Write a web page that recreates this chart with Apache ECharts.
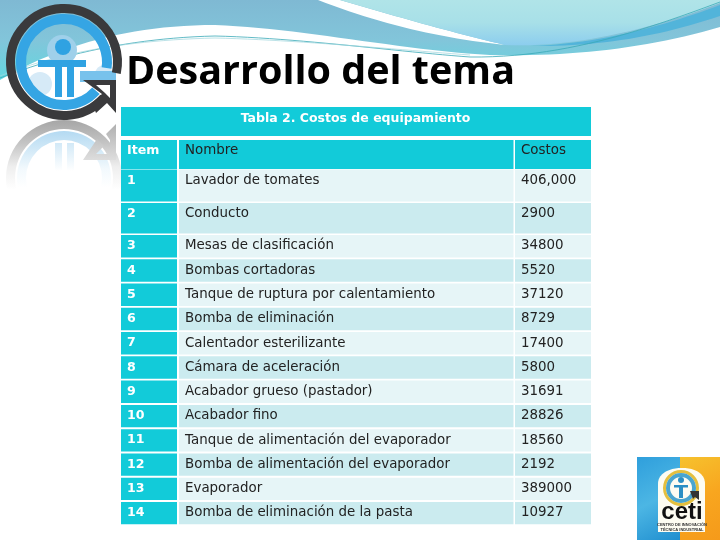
<!DOCTYPE html>
<html>
<head>
<meta charset="utf-8">
<style>
html, body { margin: 0; padding: 0; background: #fff; }
#chart { width: 720px; height: 540px; }
</style>
<script src="https://cdn.jsdelivr.net/npm/echarts@6/dist/echarts.min.js"></script>
</head>
<body>
<div id="chart"></div>
<script>
// Contenu du tableau
const titre = 'Desarrollo del tema';
const titreTableau = 'Tabla 2. Costos de equipamiento';
const enTetes = ['Item', 'Nombre', 'Costos'];
const items = ['1', '2', '3', '4', '5', '6', '7', '8', '9', '10', '11', '12', '13', '14'];
const nombres = [
    'Lavador de tomates', 'Conducto', 'Mesas de clasificación', 'Bombas cortadoras',
    'Tanque de ruptura por calentamiento', 'Bomba de eliminación', 'Calentador esterilizante',
    'Cámara de aceleración', 'Acabador grueso (pastador)', 'Acabador fino',
    'Tanque de alimentación del evaporador', 'Bomba de alimentación del evaporador',
    'Evaporador', 'Bomba de eliminación de la pasta'
];
const costos = ['406,000', '2900', '34800', '5520', '37120', '8729', '17400', '5800', '31691', '28826', '18560', '2192', '389000', '10927'];

// Géométrie du tableau, en unités d'axe (1 unité = 1 pixel)
const colonnes = [[121, 177], [179, 513.5], [515, 591]];
const bandeTitre = [107, 136];
const hautEnTete = [140, 169];
function ligneY(i) {
    if (i === 0) return [169.5, 201.5];
    if (i === 1) return [203, 233.5];
    const haut = 235 + (i - 2) * 24.27;
    return [haut, haut + 22.4];
}

const cyan = '#12cbd9', clair = '#e6f5f7', fonce = '#cbebef';
const policeTexte = '"DejaVu Sans", sans-serif';

function texte(api, col, haut, chaine, couleur, gras) {
    const p = api.coord([colonnes[col][0] + 6, haut + 11]);
    return {
        type: 'text',
        style: {
            x: p[0], y: p[1], text: chaine, fill: couleur,
            font: gras ? 'bold 12.6px ' + policeTexte : '13.4px ' + policeTexte,
            textAlign: 'left', textVerticalAlign: 'middle'
        }
    };
}

function cellule(api, x0, x1, y0, y1, couleur) {
    const a = api.coord([x0, y0]), b = api.coord([x1, y1]);
    return { type: 'rect', shape: { x: a[0], y: a[1], width: b[0] - a[0], height: b[1] - a[1] }, style: { fill: couleur } };
}

// Une ligne de données par rangée : -2 = bandeau, -1 = en-têtes, puis les items
function dessinerRangee(params, api) {
    const i = api.value(0);
    const enfants = [];
    if (i === -2) {
        enfants.push(cellule(api, colonnes[0][0], colonnes[2][1], bandeTitre[0], bandeTitre[1], cyan));
        const p = api.coord([355.5, 119]);
        enfants.push({ type: 'text', style: { x: p[0], y: p[1], text: titreTableau, fill: '#fff', font: 'bold 12.5px ' + policeTexte, textAlign: 'center', textVerticalAlign: 'middle' } });
    } else if (i === -1) {
        colonnes.forEach(c => enfants.push(cellule(api, c[0], c[1], hautEnTete[0], hautEnTete[1], cyan)));
        enfants.push(texte(api, 0, hautEnTete[0], enTetes[0], '#fff', true));
        enfants.push(texte(api, 1, hautEnTete[0], enTetes[1], '#222', false));
        enfants.push(texte(api, 2, hautEnTete[0], enTetes[2], '#222', false));
    } else {
        const y = ligneY(i);
        const fond = i % 2 === 0 ? clair : fonce;
        enfants.push(cellule(api, colonnes[0][0], colonnes[0][1], y[0], y[1], cyan));
        enfants.push(cellule(api, colonnes[1][0], colonnes[1][1], y[0], y[1], fond));
        enfants.push(cellule(api, colonnes[2][0], colonnes[2][1], y[0], y[1], fond));
        enfants.push(texte(api, 0, y[0] + (i === 0 ? 0.5 : 0), items[i], '#fff', true));
        enfants.push(texte(api, 1, y[0] + (i === 0 ? 0.5 : 0), nombres[i], '#222', false));
        enfants.push(texte(api, 2, y[0] + (i === 0 ? 0.5 : 0), costos[i], '#222', false));
    }
    return { type: 'group', children: enfants };
}

function degrade(x, y, x2, y2, arrets) {
    return { type: 'linear', x, y, x2, y2, colorStops: arrets.map((c, k) => ({ offset: k / (arrets.length - 1), color: c })) };
}
const rad = d => d * Math.PI / 180;

// Le composant graphic ne prend pas 'path' : on échantillonne les courbes en points
function points(chemin) {
    const nb = chemin.match(/-?[\d.]+|[MLCZ]/g);
    const res = [];
    let i = 0, cmd = '', cx = 0, cy = 0;
    while (i < nb.length) {
        if (/[MLCZ]/.test(nb[i])) { cmd = nb[i++]; continue; }
        if (cmd === 'C') {
            const v = nb.slice(i, i + 6).map(Number);
            i += 6;
            for (let k = 1; k <= 24; k++) {
                const t = k / 24, u = 1 - t;
                res.push([
                    u * u * u * cx + 3 * u * u * t * v[0] + 3 * u * t * t * v[2] + t * t * t * v[4],
                    u * u * u * cy + 3 * u * u * t * v[1] + 3 * u * t * t * v[3] + t * t * t * v[5]
                ]);
            }
            cx = v[4]; cy = v[5];
        } else {
            cx = Number(nb[i]); cy = Number(nb[i + 1]);
            i += 2;
            res.push([cx, cy]);
        }
    }
    return res;
}
const surface = (chemin, fill) => ({ type: 'polygon', shape: { points: points(chemin) }, style: { fill } });
const trait = (chemin, stroke, lineWidth) => ({ type: 'polyline', shape: { points: points(chemin) }, style: { fill: 'none', stroke, lineWidth } });

// Décor : vague du haut
const vague = [
    surface('M0,0 L720,0 L720,27 C650,48 570,57 490,55 C400,50 300,28 215,25 C130,25 60,45 0,80 Z', degrade(0, 0, 0, 1, ['#7fb9d3', '#82c5da', '#62d8e0'])),
    surface('M318,0 C380,24 440,38 505,45 C450,32 395,16 340,0 Z', '#fff'),
    surface('M340,0 C395,16 450,32 505,45 C570,48 650,30 720,3 L720,0 Z', degrade(0, 0, 0, 1, ['#b0e4e8', '#a8e0e8', '#8ccdee'])),
    surface('M530,46 C600,44 670,24 720,5 L720,16 C660,36 600,47 530,46 Z', '#52b4da'),
    trait('M0,78 C60,55 130,38 215,36 C300,38 400,52 470,57 C560,58 640,32 720,2', '#3aa9b8', 0.8),
    trait('M0,76 C60,52 130,40 215,38 C300,40 400,50 470,55', '#9fd6dc', 0.7)
];

// Décor : reflet du logo
const reflet = [
    { type: 'ring', shape: { cx: 64, cy: 178, r: 58, r0: 49 }, style: { fill: degrade(0, 0, 0, 1, ['#a6a6a6', '#c4c4c4', '#eeeeee', '#ffffff', '#ffffff', '#ffffff']) } },
    { type: 'ring', shape: { cx: 64, cy: 178, r: 47, r0: 38 }, style: { fill: degrade(0, 0, 0, 1, ['#b4daf2', '#d2e9f7', '#f2f9fd', '#ffffff', '#ffffff', '#ffffff']) } },
    { type: 'rect', shape: { x: 55, y: 143, width: 7, height: 28 }, style: { fill: degrade(0, 0, 0, 1, ['#d2e9f7', '#ffffff']) } },
    { type: 'rect', shape: { x: 67, y: 143, width: 7, height: 28 }, style: { fill: degrade(0, 0, 0, 1, ['#d2e9f7', '#ffffff']) } },
    { type: 'polygon', shape: { points: [[83, 160], [116, 160], [116, 124], [106, 134], [110, 140], [110, 154], [96, 154], [104, 146], [97, 139]] },
      style: { fill: degrade(0, 0, 0, 1, ['#b0b0b0', '#dddddd']) } }
];

// Décor : logo
const logo = [
    { type: 'circle', shape: { cx: 62, cy: 50, r: 15 }, style: { fill: '#9fd0ea' } },
    { type: 'circle', shape: { cx: 40, cy: 84, r: 12 }, style: { fill: '#d6eaf7' } },
    { type: 'circle', shape: { cx: 104, cy: 74, r: 9 }, style: { fill: '#d6eaf7' } },
    { type: 'arc', shape: { cx: 64, cy: 62, r: 43, startAngle: rad(42), endAngle: rad(368), clockwise: true }, style: { fill: 'none', stroke: '#35a5e4', lineWidth: 10 } },
    { type: 'rect', shape: { x: 80, y: 71, width: 36, height: 11 }, style: { fill: '#78c2ec' } },
    { type: 'arc', shape: { cx: 64, cy: 62, r: 53.5, startAngle: rad(42), endAngle: rad(372), clockwise: true }, style: { fill: 'none', stroke: '#3a3a3c', lineWidth: 9 } },
    { type: 'circle', shape: { cx: 63, cy: 47, r: 8 }, style: { fill: '#2fa2e2' } },
    { type: 'rect', shape: { x: 38, y: 60, width: 48, height: 7 }, style: { fill: '#2fa2e2' } },
    { type: 'rect', shape: { x: 55, y: 60, width: 7, height: 37 }, style: { fill: '#2fa2e2' } },
    { type: 'rect', shape: { x: 67, y: 60, width: 7, height: 37 }, style: { fill: '#2fa2e2' } },
    { type: 'polygon', shape: { points: [[83, 80], [116, 80], [116, 113], [107, 103], [96, 113], [92, 103], [102, 94]] }, style: { fill: '#3a3a3c' } },
    { type: 'polygon', shape: { points: [[96, 85], [110, 85], [110, 98], [105, 93]] }, style: { fill: '#fff' } }
];

// Décor : logo CETI en bas à droite
const logoCeti = [
    { type: 'rect', shape: { x: 637, y: 457, width: 43, height: 83 }, style: { fill: degrade(0, 0, 1, 1, ['#2f9fdc', '#4cb6e4', '#1f8ecf']) } },
    { type: 'rect', shape: { x: 680, y: 457, width: 40, height: 83 }, style: { fill: degrade(0, 0, 1, 1, ['#f6c22e', '#f8a61f', '#f59a1a']) } },
    surface('M658,484 C658,474 668,468 682,468 C696,468 705,474 705,484 L705,532 L658,532 Z', '#fdfcf2'),
    { type: 'ring', shape: { cx: 681, cy: 488, r: 18, r0: 15 }, style: { fill: '#e4bf3e' } },
    { type: 'ring', shape: { cx: 681, cy: 488, r: 15, r0: 11 }, style: { fill: '#4aa5cf' } },
    { type: 'circle', shape: { cx: 681, cy: 480, r: 3 }, style: { fill: '#2b8fc4' } },
    { type: 'rect', shape: { x: 674, y: 485, width: 14, height: 2.5 }, style: { fill: '#2b8fc4' } },
    { type: 'rect', shape: { x: 679, y: 485, width: 4, height: 13 }, style: { fill: '#2b8fc4' } },
    { type: 'polygon', shape: { points: [[690, 491], [699, 491], [699, 500], [695, 497], [693, 499]] }, style: { fill: '#333' } },
    { type: 'text', style: { x: 682, y: 512, text: 'ceti', fill: '#111', font: 'bold 24px "Liberation Sans", sans-serif', textAlign: 'center', textVerticalAlign: 'middle' } },
    { type: 'text', style: { x: 682, y: 525, text: 'CENTRO DE INNOVACIÓN', fill: '#333', font: 'bold 4px "Liberation Sans", sans-serif', textAlign: 'center', textVerticalAlign: 'middle' } },
    { type: 'text', style: { x: 682, y: 529.5, text: 'TÉCNICA INDUSTRIAL', fill: '#333', font: 'bold 4px "Liberation Sans", sans-serif', textAlign: 'center', textVerticalAlign: 'middle' } }
];

const titreElement = {
    type: 'text',
    style: { x: 126, y: 73, text: titre, fill: '#000', font: 'bold 39.5px "Open Sans", sans-serif', textAlign: 'left', textVerticalAlign: 'middle' }
};

const rangees = [[-2], [-1]].concat(items.map((_, i) => [i]));

const chart = echarts.init(document.getElementById('chart'));
chart.setOption({
    animation: false,
    backgroundColor: '#fff',
    grid: { left: 0, right: 0, top: 0, bottom: 0 },
    xAxis: { type: 'value', min: 0, max: 720, show: false },
    yAxis: { type: 'value', min: 0, max: 540, inverse: true, show: false },
    graphic: { elements: [].concat(vague, reflet, logo, logoCeti, [titreElement]) },
    series: [{
        type: 'custom',
        coordinateSystem: 'cartesian2d',
        data: rangees,
        encode: { y: 0 },
        renderItem: dessinerRangee,
        clip: false,
        silent: true
    }]
});
</script>
</body>
</html>
